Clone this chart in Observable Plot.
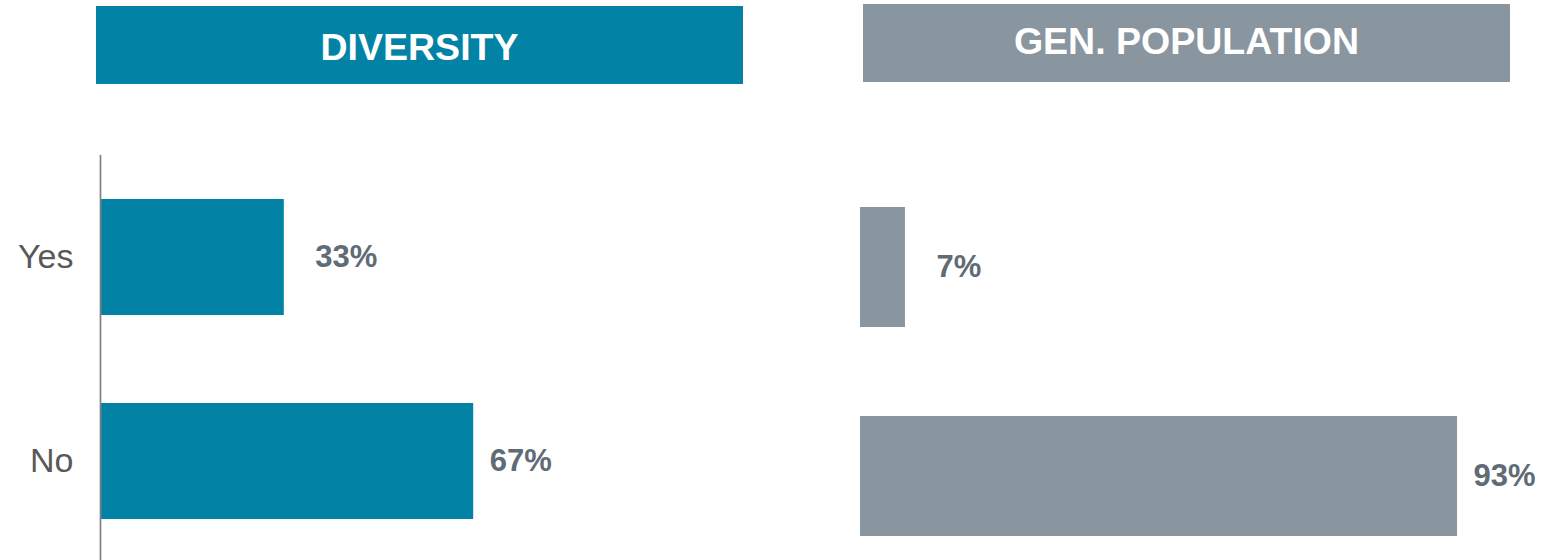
<!DOCTYPE html>
<html>
<head>
<meta charset="utf-8">
<script src="https://cdn.jsdelivr.net/npm/d3@7"></script>
<script src="https://cdn.jsdelivr.net/npm/@observablehq/plot@0.6"></script>
<style>
  html, body { margin: 0; padding: 0; background: #fff; }
  #wrap { position: relative; width: 1552px; height: 560px; overflow: hidden; font-family: "Liberation Sans", Arial, sans-serif; }
  .hdr { position: absolute; color: #fff; font-weight: bold; font-size: 37.5px; text-align: center; box-sizing: border-box; }
  .panel { position: absolute; }
</style>
</head>
<body>
<div id="wrap">
  <div class="hdr" id="h1" style="left:96px; top:6px; width:647px; height:78px; line-height:83px; background:#0283a6;"></div>
  <div class="hdr" id="h2" style="left:863px; top:4px; width:647px; height:78px; line-height:74px; background:#8a969f;"></div>
  <div class="panel" id="p1" style="left:0px; top:90px;"></div>
  <div class="panel" id="p2" style="left:760px; top:90px;"></div>
</div>
<script>
const titles = ["DIVERSITY", "GEN. POPULATION"];
const categories = ["Yes", "No"];
const diversityValues = [33, 67];
const genPopValues = [7, 93];
const valueLabels1 = ["33%", "67%"];
const valueLabels2 = ["7%", "93%"];

const teal = "#0283a6";
const gray = "#8a969f";
const labelColor = "#5f6b75";

document.getElementById("h1").textContent = titles[0];
document.getElementById("h2").textContent = titles[1];

const d1 = categories.map((c, i) => ({cat: c, value: diversityValues[i], label: valueLabels1[i]}));
const d2 = categories.map((c, i) => ({cat: c, value: genPopValues[i], label: valueLabels2[i]}));

const font = "Liberation Sans, Arial, sans-serif";

function valueTexts(data) {
  return [
    Plot.text(data.filter(d => d.value < 50), {x: "value", y: "cat", text: "label", textAnchor: "start", dx: 31, fontSize: 31, fontWeight: "bold", fill: labelColor}),
    Plot.text(data.filter(d => d.value >= 50), {x: "value", y: "cat", text: "label", textAnchor: "start", dx: 16, fontSize: 31, fontWeight: "bold", fill: labelColor})
  ];
}

const plot1 = Plot.plot({
  width: 760,
  height: 470,
  marginTop: 65,
  marginBottom: 0,
  marginLeft: 100,
  marginRight: 0,
  style: {fontFamily: font, overflow: "visible"},
  x: {domain: [0, 100], range: [100, 657], axis: null},
  y: {domain: categories, range: [109, 429.5], paddingInner: 0.429, paddingOuter: 0, label: null},
  marks: [
    Plot.barX(d1, {x: "value", y: "cat", fill: teal}),
    Plot.ruleX([0], {stroke: "#808080", strokeWidth: 1.7}),
    Plot.axisY({tickSize: 0, tickPadding: 27, fontSize: 34, color: "#595959", label: null}),
    ...valueTexts(d1)
  ]
});
document.getElementById("p1").appendChild(plot1);

const plot2 = Plot.plot({
  width: 792,
  height: 470,
  marginTop: 0,
  marginBottom: 0,
  marginLeft: 100,
  marginRight: 0,
  style: {fontFamily: font, overflow: "visible"},
  x: {domain: [0, 100], range: [100, 742], axis: null},
  y: {domain: categories, range: [117, 446], paddingInner: 0.426, paddingOuter: 0, axis: null},
  marks: [
    Plot.barX(d2, {x: "value", y: "cat", fill: gray}),
    ...valueTexts(d2)
  ]
});
document.getElementById("p2").appendChild(plot2);
</script>
</body>
</html>
